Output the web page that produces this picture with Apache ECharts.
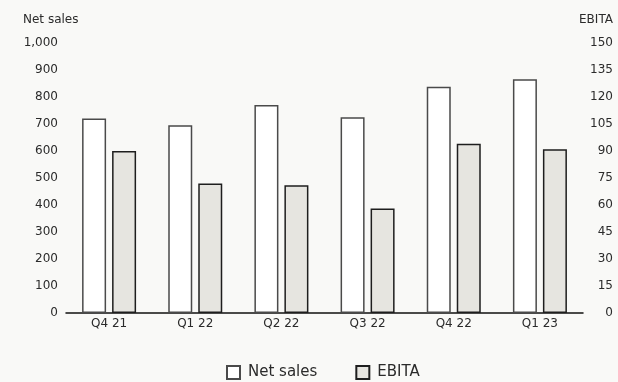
<!DOCTYPE html>
<html>
<head>
<meta charset="utf-8">
<script src="https://cdn.jsdelivr.net/npm/echarts@6/dist/echarts.min.js"></script>
<style>
html, body { margin: 0; padding: 0; background: #f9f9f7; }
#chart { width: 618px; height: 382px; }
</style>
</head>
<body>
<div id="chart"></div>
<script>
var quarters = ['Q4 21', 'Q1 22', 'Q2 22', 'Q3 22', 'Q4 22', 'Q1 23'];
var netSales = [720, 695, 770, 725, 838, 866];
var ebita = [90, 72, 71, 58, 94, 91];

var font = 'DejaVu Sans';
var textColor = '#2b2b2b';

var myChart = echarts.init(document.getElementById('chart'));
var option = {
    backgroundColor: '#f9f9f7',
    textStyle: { fontFamily: font },
    title: [
        { text: 'Net sales', left: 18, top: 9, textStyle: { fontSize: 12, fontWeight: 'normal', color: textColor, fontFamily: font } },
        { text: 'EBITA', right: 0, top: 9, textStyle: { fontSize: 12, fontWeight: 'normal', color: textColor, fontFamily: font } }
    ],
    grid: { left: 66, right: 35, top: 43, bottom: 69 },
    legend: {
        top: 360,
        left: 221,
        itemWidth: 13,
        itemHeight: 13,
        itemGap: 38,
        icon: 'rect',
        textStyle: { fontSize: 15, color: textColor, fontFamily: font, padding: [0, 0, 0, 3] },
        data: ['Net sales', 'EBITA']
    },
    xAxis: {
        type: 'category',
        data: quarters,
        axisLine: { lineStyle: { color: '#111', width: 1.5 } },
        axisTick: { show: false },
        axisLabel: { color: textColor, fontSize: 12, margin: 5 }
    },
    yAxis: [
        {
            type: 'value',
            min: 0, max: 1000, interval: 100,
            splitLine: { show: false },
            axisLine: { show: false },
            axisLabel: {
                color: textColor, fontSize: 12, margin: 8,
                formatter: function (v) { return v.toLocaleString('en-US'); }
            }
        },
        {
            type: 'value',
            min: 0, max: 150, interval: 15,
            splitLine: { show: false },
            axisLine: { show: false },
            axisLabel: { color: textColor, fontSize: 12, margin: 30, align: 'right' }
        }
    ],
    series: [
        {
            name: 'Net sales',
            type: 'bar',
            data: netSales,
            barWidth: 24,
            barGap: '25%',
            itemStyle: { color: '#ffffff', borderColor: '#4a4a4a', borderWidth: 1.5 }
        },
        {
            name: 'EBITA',
            type: 'bar',
            yAxisIndex: 1,
            data: ebita,
            barWidth: 24,
            itemStyle: { color: '#e6e5e0', borderColor: '#1e1e1e', borderWidth: 1.5 }
        }
    ]
};
myChart.setOption(option);
</script>
</body>
</html>
